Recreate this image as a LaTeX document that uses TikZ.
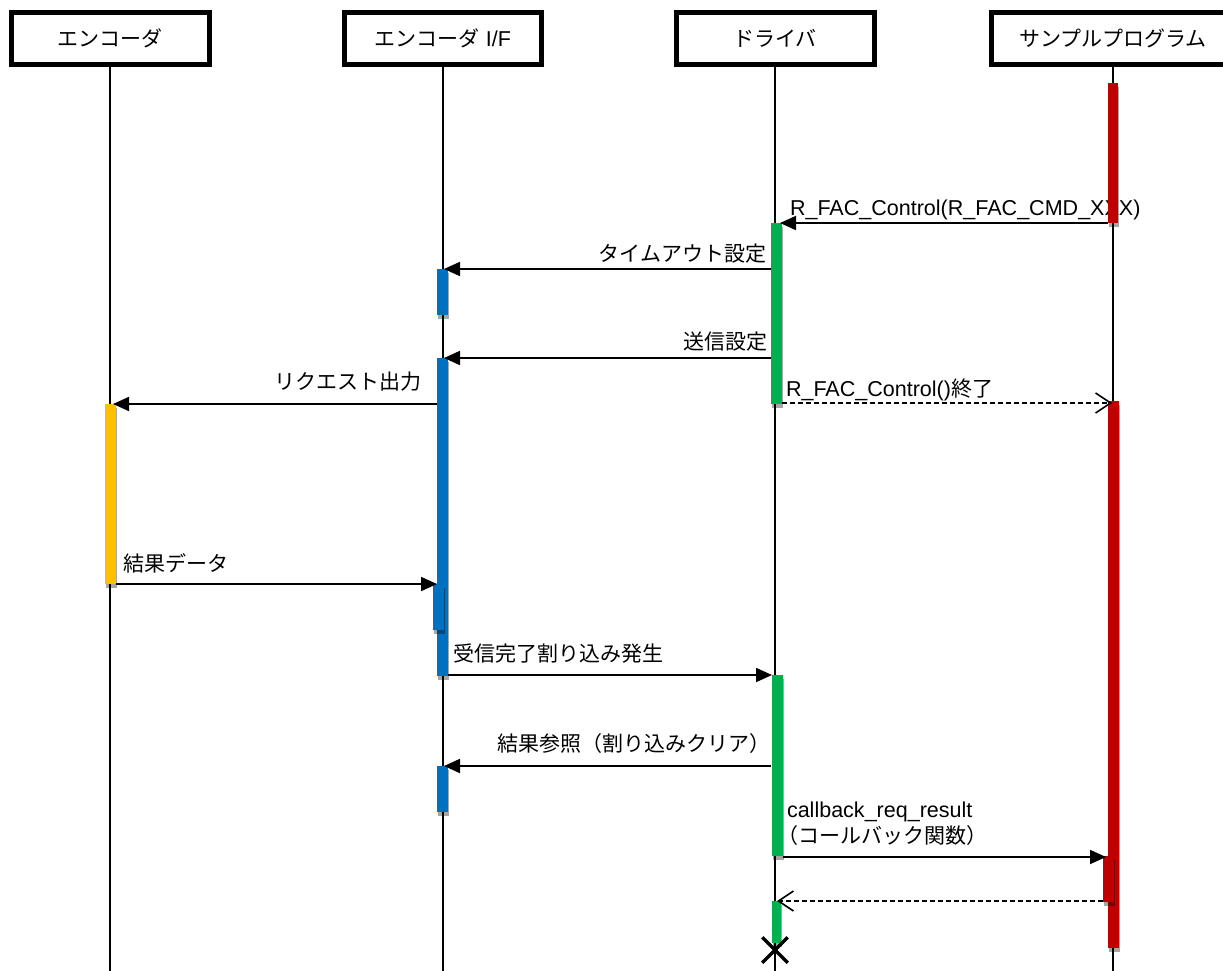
\documentclass[tikz,border=0pt]{standalone}
\usepackage{fontspec}
\setmainfont{Liberation Sans}[Scale=1.025]
\newfontfamily\jp{Noto Sans CJK JP}
\usetikzlibrary{arrows.meta,shapes.misc}
\definecolor{cRed}{HTML}{C00000}
\definecolor{cBlue}{HTML}{0070C0}
\definecolor{cGreen}{HTML}{00B050}
\definecolor{cYellow}{HTML}{FFC000}
\tikzset{
  hdr/.style={draw=black, line width=5pt, fill=white, minimum height=52pt, inner sep=0pt},
  life/.style={line width=1.5pt, black},
  msg/.style={line width=1.8pt, -{Triangle[length=16pt,width=14pt]}},
  ret/.style={line width=1.6pt, dash pattern=on 5pt off 3pt, -{Straight Barb[length=15pt,width=20pt,line width=1.6pt]}},
  lbl/.style={inner sep=0pt, outer sep=0pt},
  shadowbar/.style={fill=black, opacity=0.35},
  xmark/.style={cross out, draw=black, line width=3.5pt, minimum size=22pt, inner sep=0pt},
}
\newcommand\actbar[5]{%
  \fill[shadowbar] (#1+1,#2+4) rectangle (#3+1,#4+4);
  \fill[#5] (#1,#2) rectangle (#3,#4);}
\begin{document}
\begin{tikzpicture}[x=1pt,y=-1pt,font=\fontsize{21}{26}\selectfont]
\useasboundingbox (0,0) rectangle (1223,971);
\clip (0,0) rectangle (1223,971);
% headers
\node[hdr, minimum width=198pt] (enc) at (110,38.5) {{\jp エンコーダ}};
\node[hdr, minimum width=197pt] (eif) at (443,38.5) {{\jp エンコーダ} I/F};
\node[hdr, minimum width=198pt] (drv) at (775,38.5) {{\jp ドライバ}};
\node[hdr, minimum width=243pt] (app) at (1113,38.5) {{\jp サンプルプログラム}};
% lifeline ends
\coordinate (encE) at (110,975);
\coordinate (eifE) at (443,975);
\coordinate (drvE) at (775,975);
\coordinate (appE) at (1113,975);
\draw[life] (enc.south) -- (encE);
\draw[life] (eif.south) -- (eifE);
\draw[life] (drv.south) -- (drvE);
\draw[life] (app.south) -- (appE);
% labels
\node[lbl, anchor=base west] (l1) at (790,215.5) {R\_FAC\_Control(R\_FAC\_CMD\_XXX)};
\node[lbl, anchor=base east] (l2) at (766,261) {\jp タイムアウト設定};
\node[lbl, anchor=base east] (l3) at (767,349) {\jp 送信設定};
\node[lbl, anchor=base east] (l4) at (421,389) {\jp リクエスト出力};
\node[lbl, anchor=base west] (l5) at (786,396) {R\_FAC\_Control(){\jp 終了}};
\node[lbl, anchor=base west] (l6) at (123,571) {\jp 結果データ};
\node[lbl, anchor=base west] (l7) at (453,661) {\jp 受信完了割り込み発生};
\node[lbl, anchor=base east] (l8) at (770,751) {\jp 結果参照（割り込みクリア）};
\node[lbl, anchor=base west] (l9) at (787,817) {callback\_req\_result};
\node[lbl, anchor=base west] (l10) at (777,843) {\jp （コールバック関数）};
% activation bars
\actbar{1108}{83}{1118}{223}{cRed}
\actbar{771}{223}{782}{404}{cGreen}
\actbar{437}{269}{448}{315}{cBlue}
\actbar{437}{358}{448}{676}{cBlue}
\actbar{105}{404}{116}{584}{cYellow}
\actbar{1108}{401}{1119}{948}{cRed}
\actbar{433}{584}{444}{630}{cBlue}
\actbar{772}{675}{783}{856}{cGreen}
\actbar{437}{766}{448}{812}{cBlue}
\actbar{1103}{856}{1114}{902}{cRed}
\actbar{772}{901}{781}{943}{cGreen}
% message endpoints
\coordinate (m1s) at (1108,223); \coordinate (m1e) at (780,223);
\coordinate (m2s) at (771,269);  \coordinate (m2e) at (444,269);
\coordinate (m3s) at (771,358);  \coordinate (m3e) at (444,358);
\coordinate (m4s) at (437,404);  \coordinate (m4e) at (113,404);
\coordinate (m5s) at (782,403);  \coordinate (m5e) at (1112,403);
\coordinate (m6s) at (116,584);  \coordinate (m6e) at (437,584);
\coordinate (m7s) at (448,675);  \coordinate (m7e) at (772,675);
\coordinate (m8s) at (771,766);  \coordinate (m8e) at (444,766);
\coordinate (m9s) at (783,857);  \coordinate (m9e) at (1106,857);
\coordinate (m10s) at (1103,901); \coordinate (m10e) at (777,901);
\draw[msg] (m1s) -- (m1e);
\draw[msg] (m2s) -- (m2e);
\draw[msg] (m3s) -- (m3e);
\draw[msg] (m4s) -- (m4e);
\draw[ret] (m5s) -- (m5e);
\draw[msg] (m6s) -- (m6e);
\draw[msg] (m7s) -- (m7e);
\draw[msg] (m8s) -- (m8e);
\draw[msg] (m9s) -- (m9e);
\draw[ret] (m10s) -- (m10e);
% destruction
\node[xmark] (xend) at (775,950) {};
\end{tikzpicture}
\end{document}
